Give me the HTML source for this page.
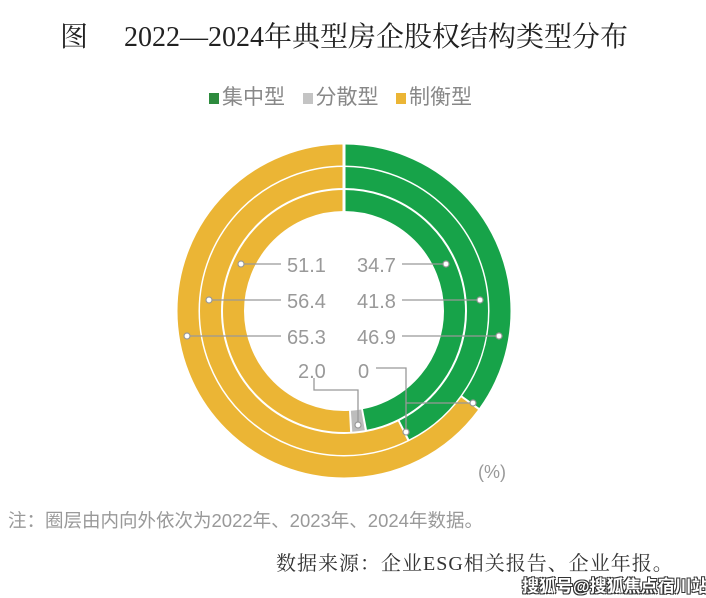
<!DOCTYPE html>
<html><head><meta charset="utf-8"><style>
body{margin:0;width:706px;height:598px;background:#fff;overflow:hidden;position:relative;font-family:"Liberation Sans","Noto Sans CJK SC",sans-serif}
.t{position:absolute;white-space:nowrap}
</style></head><body>
<div class="t" style="left:60px;top:15px;font-size:28px;color:#222;font-family:'Liberation Serif','Noto Serif CJK SC',serif">图</div>
<div class="t" style="left:124px;top:15px;font-size:28px;color:#222;font-family:'Liberation Serif','Noto Serif CJK SC',serif;letter-spacing:0px">2022—2024年典型房企股权结构类型分布</div>
<div class="t" style="left:209px;top:81px;font-size:21px;color:#888">
<span style="display:inline-block;width:10px;height:11px;background:#2e8b3e;margin-right:3px"></span>集中型&nbsp;&nbsp;&nbsp;<span style="display:inline-block;width:10px;height:11px;background:#c4c4c4;margin-right:3px"></span>分散型&nbsp;&nbsp;&nbsp;<span style="display:inline-block;width:10px;height:11px;background:#ebb535;margin-right:3px"></span>制衡型</div>
<svg width="706" height="598" style="position:absolute;left:0;top:0">
<g transform="rotate(-90 344 311)" fill="none" stroke-width="21">
<circle cx="344" cy="311" r="110.5" stroke="#17a349" stroke-dasharray="325.9 1000"/>
<circle cx="344" cy="311" r="110.5" stroke="#bdbdbd" stroke-dasharray="11.5 1000" stroke-dashoffset="-327.9"/>
<circle cx="344" cy="311" r="110.5" stroke="#ebb535" stroke-dasharray="352.9 1000" stroke-dashoffset="-341.4"/>
<circle cx="344" cy="311" r="133.5" stroke="#17a349" stroke-dasharray="356.5 1000"/>
<circle cx="344" cy="311" r="133.5" stroke="#ebb535" stroke-dasharray="480.3 1000" stroke-dashoffset="-358.5"/>
<circle cx="344" cy="311" r="156" stroke="#17a349" stroke-dasharray="342 1000"/>
<circle cx="344" cy="311" r="156" stroke="#ebb535" stroke-dasharray="636.2 1000" stroke-dashoffset="-344"/>
</g>
<rect x="342.5" y="140" width="3" height="75" fill="#fff"/>
<g stroke="#999" stroke-width="1.3" fill="none">
<line x1="241" y1="264" x2="281" y2="264"/><line x1="402" y1="264" x2="446" y2="264"/>
<line x1="209" y1="300" x2="281" y2="300"/><line x1="402" y1="300" x2="480" y2="300"/>
<line x1="187" y1="336" x2="281" y2="336"/><line x1="402" y1="336" x2="499" y2="336"/>
<polyline points="314,378 314,390 358,390 358,425"/>
<polyline points="376,368 406,368 406,432"/>
<line x1="406" y1="403" x2="473" y2="403"/>
</g>
<g fill="#fff" stroke="#999" stroke-width="1.2">
<circle cx="241" cy="264" r="3"/><circle cx="446" cy="264" r="3"/>
<circle cx="209" cy="300" r="3"/><circle cx="480" cy="300" r="3"/>
<circle cx="187" cy="336" r="3"/><circle cx="499" cy="336" r="3"/>
<circle cx="358" cy="425" r="3"/><circle cx="406" cy="432" r="3"/><circle cx="473" cy="403" r="3"/>
</g>
<g font-family="Liberation Sans,sans-serif" font-size="20" fill="#999">
<text x="287" y="272">51.1</text><text x="357" y="272">34.7</text>
<text x="287" y="308">56.4</text><text x="357" y="308">41.8</text>
<text x="287" y="344">65.3</text><text x="357" y="344">46.9</text>
<text x="298" y="378">2.0</text><text x="358" y="378">0</text>
<text x="478" y="478" font-size="18">(%)</text>
</g>
</svg>
<div class="t" style="left:8px;top:507px;font-size:18.5px;color:#999;letter-spacing:0px">注：圈层由内向外依次为2022年、2023年、2024年数据。</div>
<div class="t" style="left:276px;top:547px;font-size:20px;color:#333;font-family:'Liberation Serif','Noto Serif CJK SC',serif;letter-spacing:1px">数据来源：企业ESG相关报告、企业年报。</div>
<div class="t" style="left:522px;top:572px;font-size:17px;font-weight:bold;color:#fff;text-shadow:-1px -1px 0 #333,1px -1px 0 #333,-1px 1px 0 #333,1px 1px 0 #333">搜狐号@搜狐焦点宿川站</div>
</body></html>
